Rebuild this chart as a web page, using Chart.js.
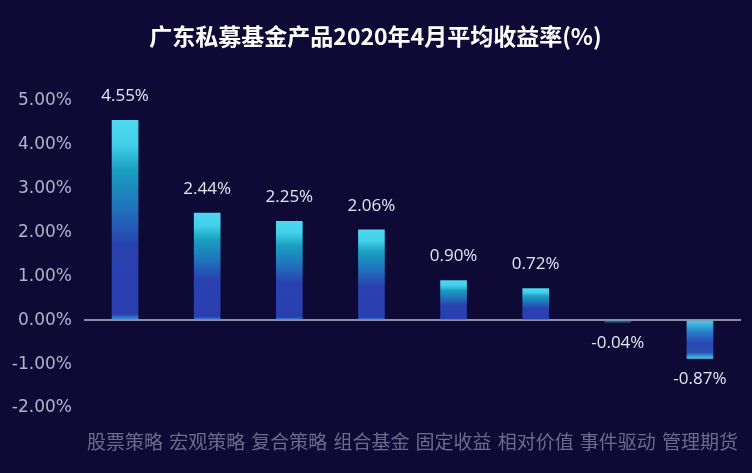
<!DOCTYPE html>
<html>
<head>
<meta charset="utf-8">
<script src="https://cdn.jsdelivr.net/npm/chart.js@4"></script>
<style>
  html, body { margin: 0; padding: 0; background: #0f0a35; }
  .wrap { width: 752px; height: 473px; position: relative; }
</style>
</head>
<body>
<div class="wrap"><canvas id="c"></canvas></div>
<script>
const categories = ["股票策略", "宏观策略", "复合策略", "组合基金", "固定收益", "相对价值", "事件驱动", "管理期货"];
const returns = [4.55, 2.44, 2.25, 2.06, 0.90, 0.72, -0.04, -0.87];
const yMin = -2;
const yMax = 5;
const chartTitle = "广东私募基金产品2020年4月平均收益率(%)";

function barFill(context) {
  const chart = context.chart;
  const y = chart.scales.y;
  if (!y || context.raw === undefined) return "#2a3eb0";
  const v = context.raw;
  const top = y.getPixelForValue(v);
  const base = y.getPixelForValue(0);
  if (!isFinite(top) || !isFinite(base) || top === base) return "#2a3eb0";
  const c = chart.ctx;
  let g;
  if (v >= 0) {
    g = c.createLinearGradient(0, top, 0, base);
    g.addColorStop(0, "#4cd8ef");
    g.addColorStop(0.12, "#42d0ea");
    g.addColorStop(0.25, "#1a9ec0");
    g.addColorStop(0.45, "#2070bb");
    g.addColorStop(0.62, "#2a42b0");
    g.addColorStop(0.97, "#2a3eb0");
    g.addColorStop(1, "#3aa6d6");
  } else {
    g = c.createLinearGradient(0, base, 0, top);
    g.addColorStop(0, "#48d0ea");
    g.addColorStop(0.25, "#2a8ccc");
    g.addColorStop(0.6, "#2a46b2");
    g.addColorStop(0.85, "#2a52b6");
    g.addColorStop(1, "#44c8e8");
  }
  return g;
}

const valueLabels = {
  id: "valueLabels",
  afterDatasetsDraw(chart) {
    const ctx = chart.ctx;
    const meta = chart.getDatasetMeta(0);
    ctx.save();
    ctx.font = "17px 'Open Sans', 'Noto Sans', sans-serif";
    ctx.fillStyle = "#e4e6f4";
    ctx.textAlign = "center";
    ctx.textBaseline = "middle";
    meta.data.forEach((bar, i) => {
      const v = returns[i];
      const txt = v.toFixed(2) + "%";
      if (v >= 0) ctx.fillText(txt, bar.x, bar.y - 24);
      else ctx.fillText(txt, bar.x, bar.y + 21);
    });
    ctx.restore();
  }
};

const chart = new Chart(document.getElementById("c"), {
  type: "bar",
  data: {
    labels: categories,
    datasets: [{
      data: returns,
      backgroundColor: barFill,
      borderWidth: 0,
      barThickness: 26
    }]
  },
  options: {
    responsive: true,
    maintainAspectRatio: false,
    animation: false,
    layout: { padding: { left: 0, right: 1, top: 0, bottom: 0 } },
    plugins: {
      legend: { display: false },
      tooltip: { enabled: false },
      title: {
        display: true,
        text: chartTitle,
        color: "#ffffff",
        font: { family: "'Noto Sans CJK SC', sans-serif", size: 23, weight: "bold" },
        padding: { top: 22, bottom: 51 }
      }
    },
    scales: {
      x: {
        grid: { display: false },
        border: { display: false },
        ticks: {
          color: "#6c6a8c",
          padding: 14,
          font: { family: "'Noto Sans CJK SC', sans-serif", size: 19 }
        },
        afterFit(scale) { scale.height = 65; }
      },
      y: {
        min: yMin,
        max: yMax,
        border: { display: false },
        grid: {
          drawTicks: false,
          lineWidth: 2,
          color: (c) => c.tick && c.tick.value === 0 ? "#8e8ca2" : "transparent"
        },
        ticks: {
          stepSize: 1,
          color: "#b4b2c8",
          padding: 12,
          font: { family: "'DejaVu Sans', sans-serif", size: 17 },
          callback: (v) => v.toFixed(2) + "%"
        },
        afterFit(scale) { scale.width = 84; }
      }
    }
  },
  plugins: [valueLabels]
});
chart.update();
</script>
</body>
</html>
